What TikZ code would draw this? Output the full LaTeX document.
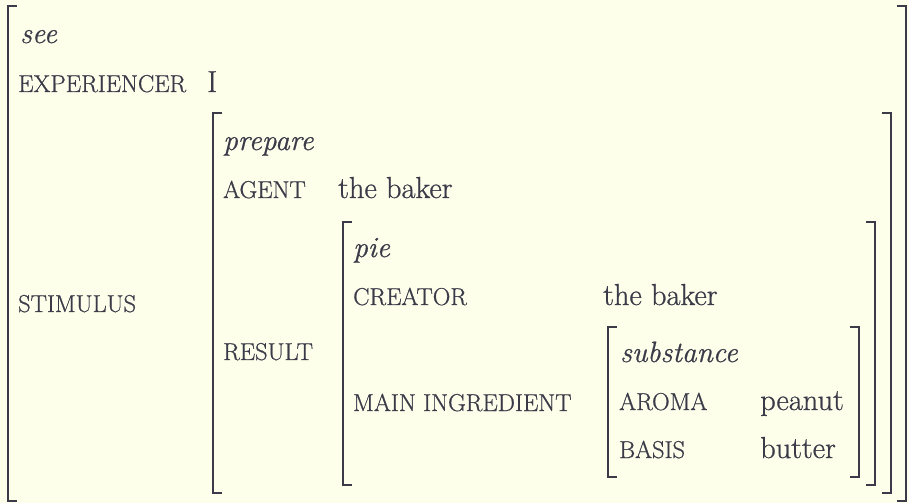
\documentclass[tikz,border=0pt]{standalone}
\usepackage{fontspec}
\setmainfont{Latin Modern Roman}[FakeBold=0.7]
\usepackage{xcolor}

\definecolor{ink}{RGB}{58,58,72}
\definecolor{paper}{RGB}{253,255,234}

% a pair of square brackets: left, top, right, bottom
\newcommand{\avmframe}[4]{%
  \draw[bracket] (#1+9,#2) -| (#1,#4) -- (#1+9,#4);
  \draw[bracket] (#3-9,#2) -| (#3,#4) -- (#3-9,#4);
}

\begin{document}
\begin{tikzpicture}[x=1bp,y=-1bp,
    bracket/.style={draw=ink,line width=2.7bp,line join=miter},
    attr/.style={anchor=base west,inner sep=0pt,text=ink,font=\fontsize{24.5}{27}\selectfont},
    val/.style={anchor=base west,inner sep=0pt,text=ink,font=\fontsize{30.5}{33}\selectfont},
    type/.style={anchor=base west,inner sep=0pt,text=ink,font=\fontsize{29.5}{32}\selectfont\itshape}]

    \fill[paper] (0,0) rectangle (909,503);
    \useasboundingbox (0,0) rectangle (909,503);

    % outer frame
    \node[type] (see) at (20,43) {see};
    \node[attr] (exp) at (18,92) {EXPERIENCER};
    \node[val] (i) at (207,92) {I};
    \node[attr] (stim) at (18,312) {STIMULUS};

    % stimulus
    \node[type] (prepare) at (223,150) {prepare};
    \node[attr] (agent) at (223,198) {AGENT};
    \node[val] (baker1) at (338,198) {the baker};
    \node[attr] (result) at (223,360) {RESULT};

    % result
    \node[type] (pie) at (353,257) {pie};
    \node[attr] (creator) at (353,305) {CREATOR};
    \node[val] (baker2) at (603,305) {the baker};
    \node[attr] (ingr) at (353,411) {MAIN INGREDIENT};

    % main ingredient
    \node[type] (subst) at (620,362) {substance};
    \node[attr] (aroma) at (619,410) {AROMA};
    \node[val] (peanut) at (760,410) {peanut};
    \node[attr] (basis) at (619,458) {BASIS};
    \node[val] (butter) at (760,458) {butter};

    \avmframe{8}{6}{906}{501}
    \avmframe{213}{113}{891}{493}
    \avmframe{343}{222}{875}{485}
    \avmframe{608}{327}{859}{477}
\end{tikzpicture}
\end{document}
